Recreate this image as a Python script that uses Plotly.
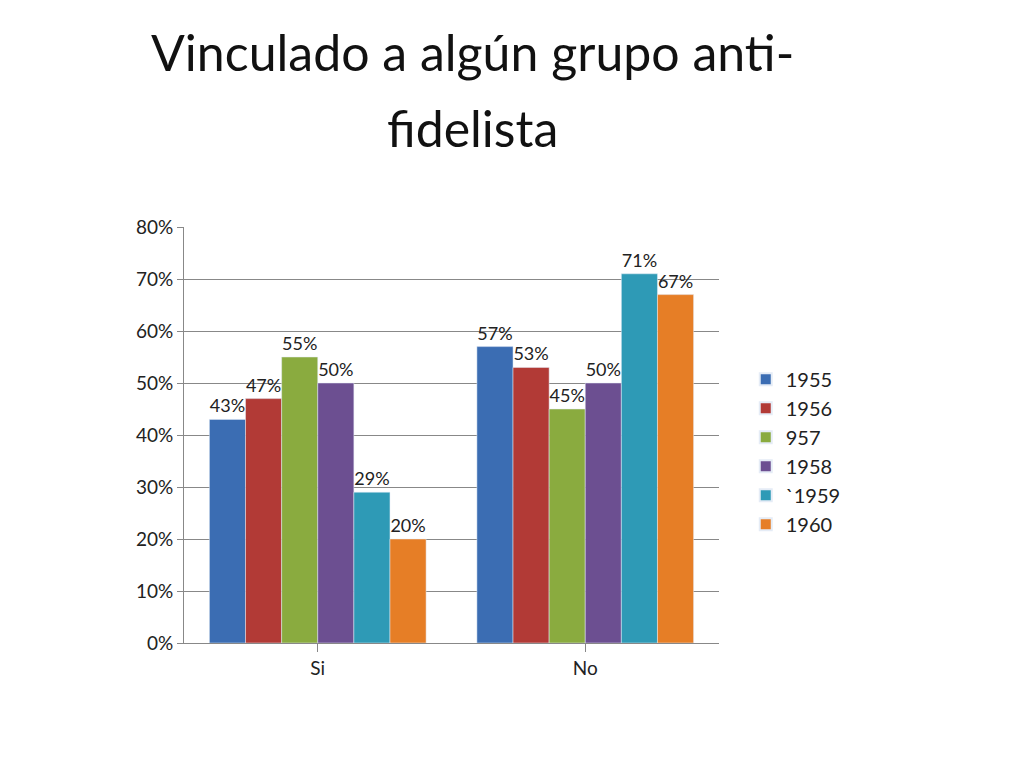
import plotly.graph_objects as go

categories = ["Si", "No"]
series_names = ["1955", "1956", "957", "1958", "`1959", "1960"]
values = [
    [0.43, 0.57],
    [0.47, 0.53],
    [0.55, 0.45],
    [0.50, 0.50],
    [0.29, 0.71],
    [0.20, 0.67],
]
colors = ["#3B6DB3", "#B23A36", "#8AAB3F", "#6C4F91", "#2E9AB6", "#E67E26"]
title_lines = ["Vinculado a algún grupo anti-", "fidelista"]

fig = go.Figure()
for name, vals, col in zip(series_names, values, colors):
    fig.add_trace(go.Bar(
        x=categories, y=vals, name=name, marker_color=col,
        text=[f"{round(v * 100)}%" for v in vals],
        textposition="outside", cliponaxis=False,
        textfont=dict(size=18, color="#222"),
    ))

# title as two annotation lines (plot height is 408px)
for line, ypx in zip(title_lines, [55, 130]):
    fig.add_annotation(text=line, xref="paper", yref="paper",
                       x=(465 - 182) / 525, y=(635 - ypx) / 408,
                       xanchor="center", yanchor="middle", showarrow=False,
                       font=dict(size=50, color="#111"))

fig.update_layout(
    width=1024, height=768,
    paper_bgcolor="white", plot_bgcolor="white",
    font=dict(family="Lato, Open Sans, sans-serif", size=18, color="#222"),
    margin=dict(l=176, r=313, t=219, b=133),
    bargap=0.19, bargroupgap=0,
    legend=dict(x=1.05, y=0.46, yanchor="middle", font=dict(size=20),
                tracegroupgap=15, itemsizing="constant"),
    xaxis=dict(showline=True, linecolor="#888", ticks="outside", ticklen=8,
               tickcolor="#888", tickfont=dict(size=19)),
    yaxis=dict(range=[0, 0.8], dtick=0.1, tickformat=".0%", showgrid=True,
               gridcolor="#888", showline=True, linecolor="#888",
               ticks="outside", tickcolor="#888", ticklen=6, tickfont=dict(size=19),
               zeroline=False),
)

fig.write_html("out.html")
